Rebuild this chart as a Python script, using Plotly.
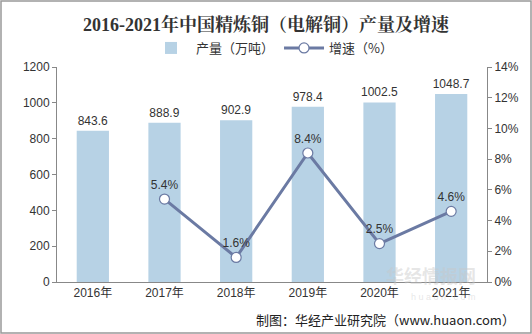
import plotly.graph_objects as go

years = ["2016年", "2017年", "2018年", "2019年", "2020年", "2021年"]
output = [843.6, 888.9, 902.9, 978.4, 1002.5, 1048.7]
growth_years = ["2017年", "2018年", "2019年", "2020年", "2021年"]
growth = [5.4, 1.6, 8.4, 2.5, 4.6]

W, H = 532, 334
ml, mr, mt, mb = 57, 45, 67, 52
pw, ph = W - ml - mr, H - mt - mb

font = "Liberation Sans, Arial, Noto Sans CJK SC, sans-serif"

fig = go.Figure()
fig.add_trace(go.Bar(
    x=years, y=output, name="产量（万吨）",
    marker=dict(color="#b7d2e5", line=dict(width=0)),
    width=0.45,
    text=[f"{v:.1f}" for v in output], textposition="outside",
    constraintext="none",
    textfont=dict(size=12, color="#333333"), cliponaxis=False,
))
fig.add_trace(go.Scatter(
    x=growth_years, y=growth, name="增速（%）", yaxis="y2",
    mode="lines+markers+text",
    line=dict(color="#6b7aa3", width=3),
    marker=dict(size=10, color="white", line=dict(color="#6b7aa3", width=1.2)),
    text=[f"{v}%" for v in growth], textposition="top center",
    textfont=dict(size=12, color="#333333"), cliponaxis=False,
))

fig.update_layout(
    width=W, height=H,
    margin=dict(l=ml, r=mr, t=mt, b=mb, autoexpand=False),
    paper_bgcolor="white", plot_bgcolor="white",
    font=dict(family=font, size=12, color="#333333"),
    showlegend=True,
    legend=dict(orientation="h", x=0.5, xanchor="center", y=(H - 48) / H, yref="container",
                yanchor="middle", font=dict(size=13, family="Noto Sans CJK SC, sans-serif"),
                itemwidth=40, bgcolor="rgba(0,0,0,0)"),
    title=dict(text="<b>2016-2021年中国精炼铜（电解铜）产量及增速</b>",
               x=0.5, xanchor="center", y=(H - 25) / H, yanchor="middle",
               font=dict(size=18, family="Liberation Serif, Noto Serif CJK SC, serif", color="#333333")),
    xaxis=dict(showline=True, linecolor="#888888", ticks="", showgrid=False,
               tickfont=dict(size=12), fixedrange=True),
    yaxis=dict(range=[0, 1200], dtick=200, showline=True, linecolor="#888888",
               ticks="outside", ticklen=4, tickcolor="#888888", showgrid=False,
               tickfont=dict(size=12), zeroline=False),
    yaxis2=dict(range=[0, 14], dtick=2, overlaying="y", side="right", showline=True,
                linecolor="#888888", ticks="outside", ticklen=4, tickcolor="#888888",
                ticksuffix="%", showgrid=False, tickfont=dict(size=12), zeroline=False),
    bargap=0.55,
)

# outer border
fig.add_shape(type="rect", xref="paper", yref="paper",
              x0=-ml / pw + 1 / pw, x1=1 + mr / pw - 1 / pw,
              y0=-mb / ph + 1 / ph, y1=1 + mt / ph - 1 / ph,
              line=dict(color="#999999", width=1.5), fillcolor="rgba(0,0,0,0)", layer="above")

# watermark
fig.add_annotation(text="<b>华经情报网</b>", xref="paper", yref="paper",
                   x=(478 - ml) / pw, y=(H - mb - 290) / ph, showarrow=False,
                   font=dict(size=18, color="rgba(200,200,200,0.45)",
                             family="Noto Sans CJK SC, sans-serif"))
fig.add_annotation(text="h u a o n . c o m", xref="paper", yref="paper",
                   x=(478 - ml) / pw, y=(H - mb - 304) / ph, showarrow=False,
                   font=dict(size=9, color="rgba(200,200,200,0.45)"))

# source
fig.add_annotation(text="制图：华经产业研究院（www.huaon.com）", xref="paper", yref="paper",
                   x=(517 - ml) / pw, xanchor="right", y=(H - mb - 319) / ph, yanchor="middle",
                   showarrow=False,
                   font=dict(size=13, color="#222222", family="Noto Sans CJK SC, sans-serif"))

fig.write_html("out.html")
